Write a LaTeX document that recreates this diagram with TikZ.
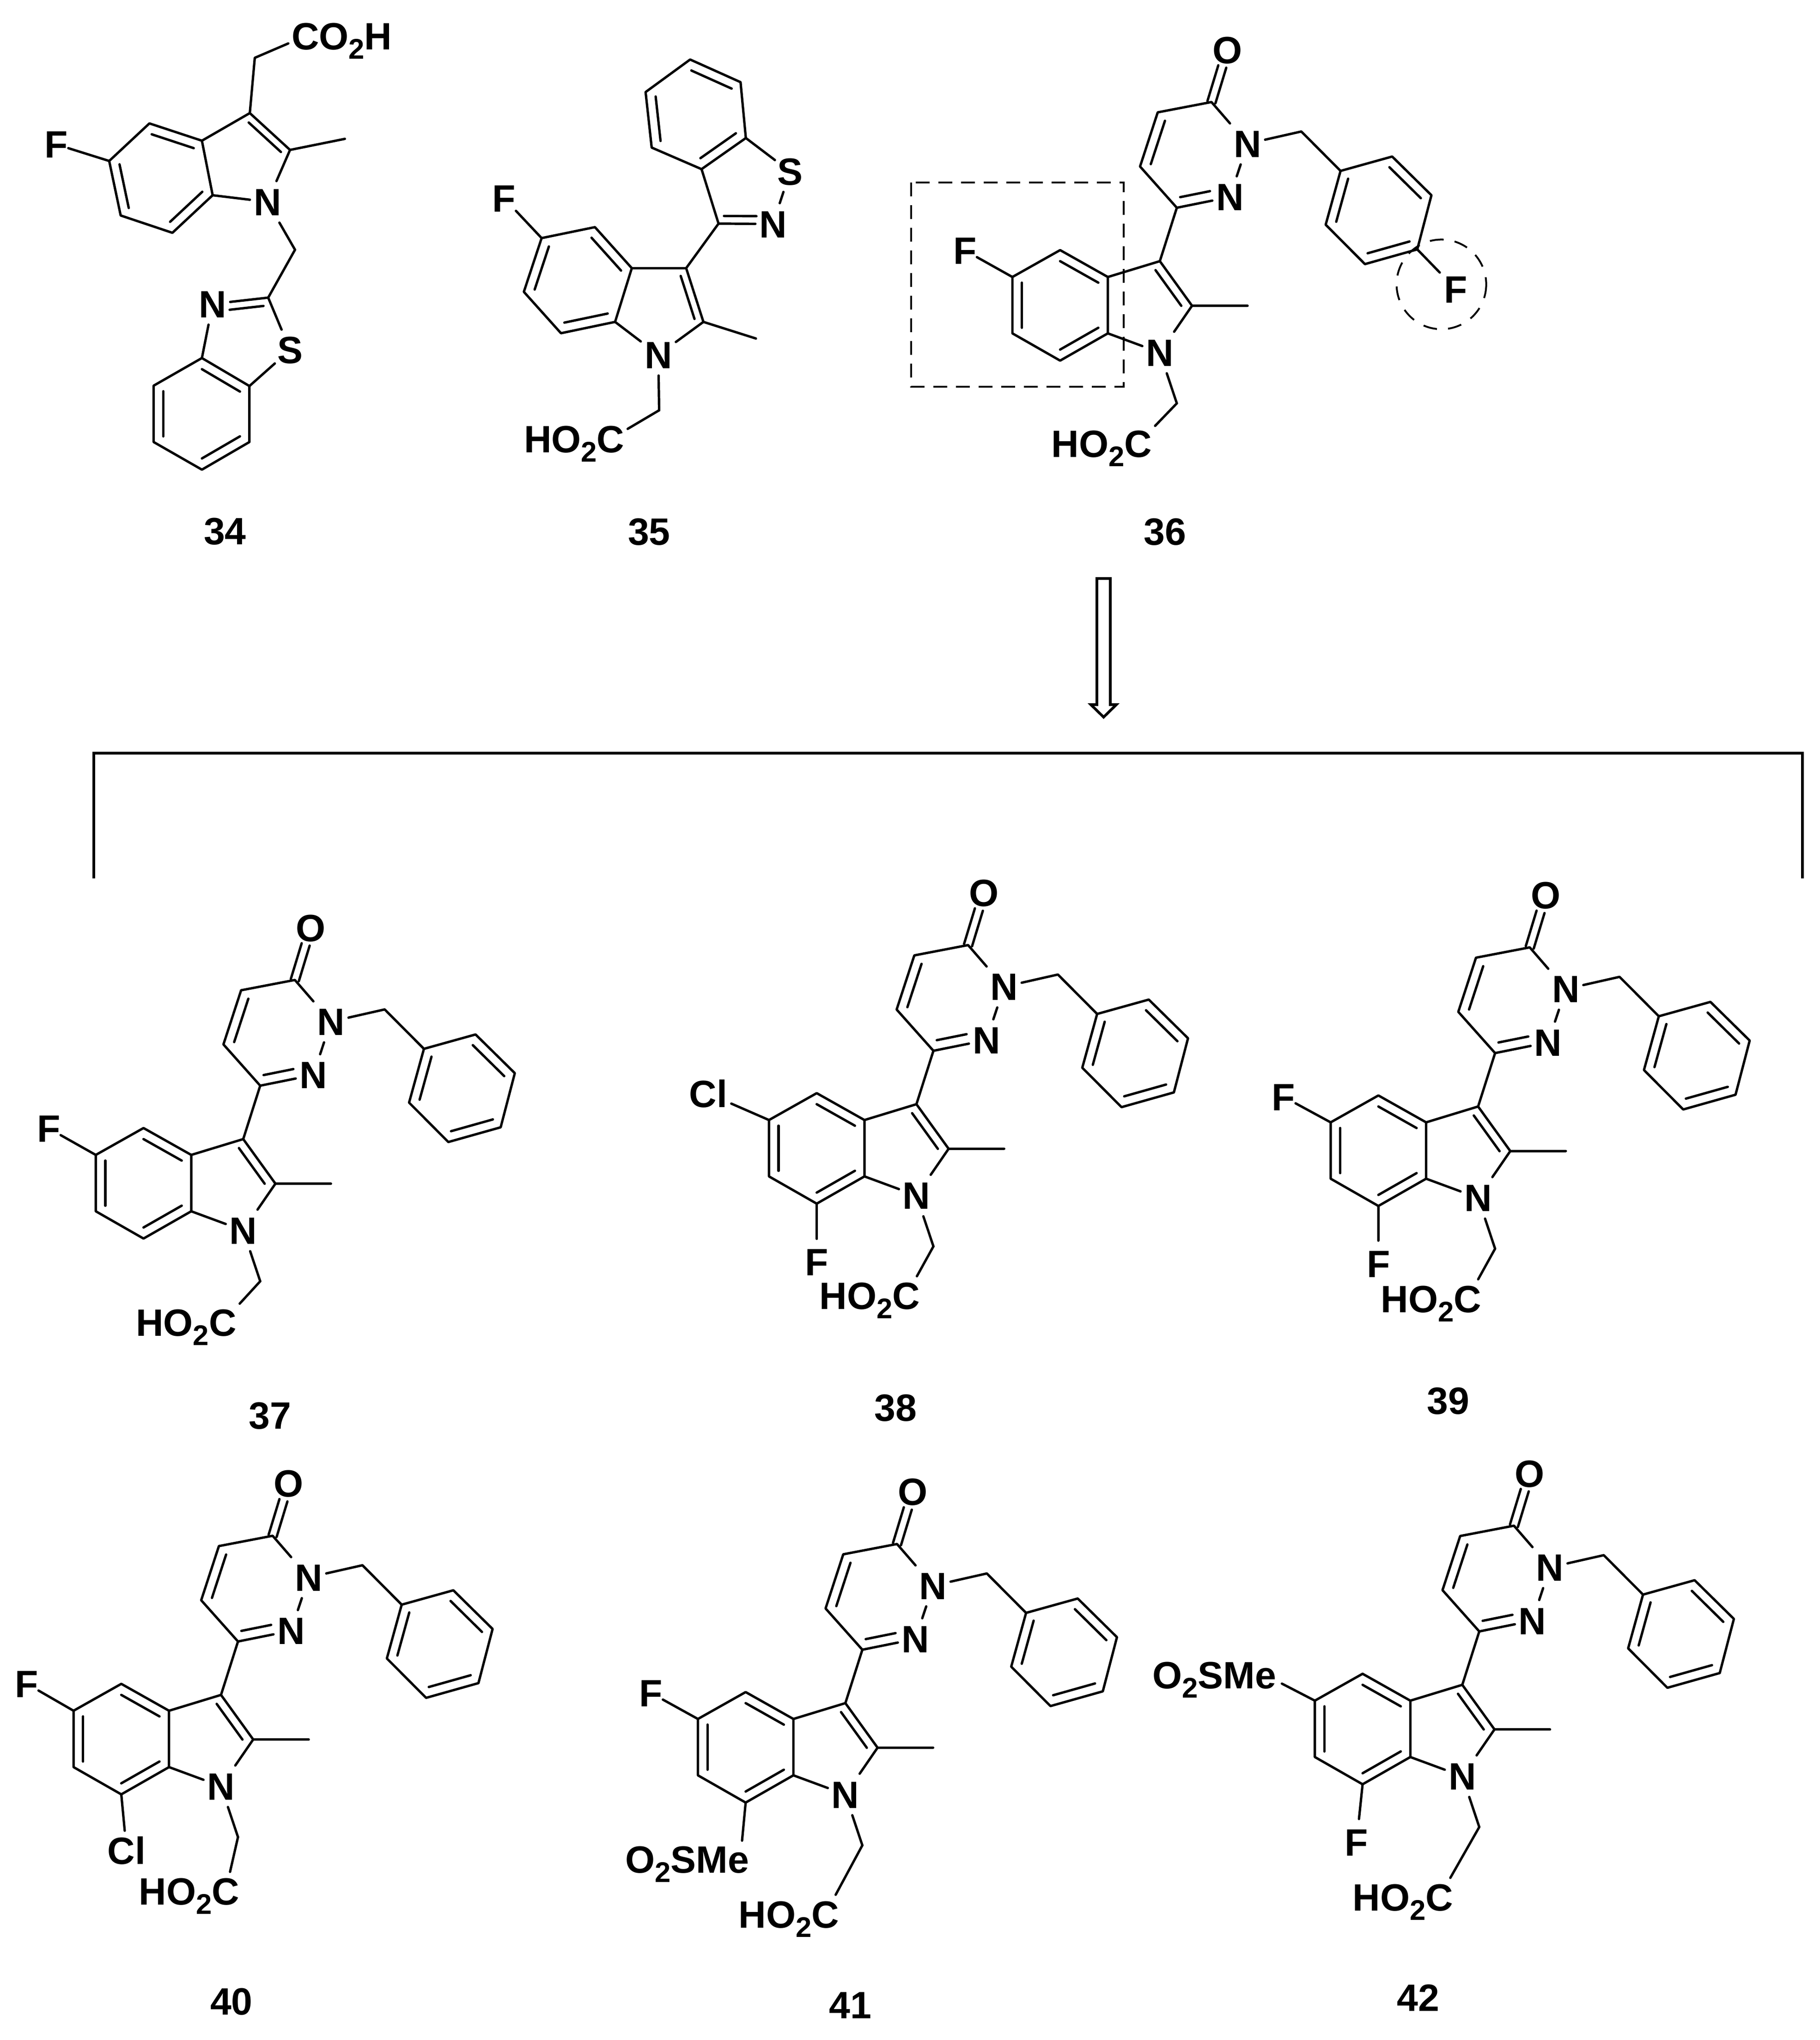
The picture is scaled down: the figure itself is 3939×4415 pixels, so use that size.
\documentclass[tikz,border=0pt]{standalone}
\usepackage{fontspec}
\setmainfont{Liberation Sans}
\usetikzlibrary{calc}
\newcommand\lf{\fontsize{20.6pt}{22pt}\selectfont\bfseries}
\newcommand\gl[1]{\makebox[0pt][c]{\raisebox{-7.35pt}[0pt][0pt]{#1}}}
\newcommand\subt[1]{\raisebox{-5pt}{\fontsize{15.4pt}{16pt}\selectfont #1}}
\tikzset{
  bond/.style={line width=1.3pt,line cap=round,line join=round,draw=black},
  atomb/.style 2 args={rectangle,inner sep=0pt,outer sep=0pt,minimum width=#1,minimum height=#2,font=\lf,text=black},
  atN/.style={atomb={19pt}{22.5pt}},
  atF/.style={atomb={13pt}{25pt}},
  atO/.style={atomb={17.5pt}{19pt}},
  atS/.style={atomb={16.5pt}{22pt}},
  atCl/.style={atomb={25pt}{21.5pt}},
  atC/.style={atomb={18.5pt}{21pt}},
  lbl/.style={inner sep=0pt,outer sep=0pt,font=\lf,text=black},
  dashbox/.style={line width=1.1pt,draw=black,dash pattern=on 7.5pt off 4.75pt},
  dashring/.style={line width=1pt,draw=black,dash pattern=on 7.5pt off 6pt},
  frame/.style={line width=1.5pt,draw=black,line join=miter},
  hollow/.style={line width=1.45pt,draw=black,line join=miter}
}
% inner line of a ring double bond
\newcommand\ringd[3]{\draw[bond] ($(#1)!.2!(#3)$) -- ($(#2)!.2!(#3)$);}
\newcommand\ringds[4]{\draw[bond,shorten >=#4] ($(#1)!.2!(#3)$) -- ($(#2)!.2!(#3)$);}
% exocyclic C=O
\newcommand\dbo[2]{\draw[bond,shorten >=9.5pt] ($(#1)!2.25pt!90:(#2)$) -- ($(#2)!2.25pt!-90:(#1)$);
  \draw[bond,shorten >=9.5pt] ($(#1)!2.25pt!-90:(#2)$) -- ($(#2)!2.25pt!90:(#1)$);}
% HO2C group: #1 name, #2 x, #3 y, #4 atom it is bound to
\newcommand\hoc[4]{\node[atC] (#1) at (#2,#3) {\gl{C}};
  \node[lbl,anchor=base east] (#1ho) at ([xshift=-7.4pt,yshift=-7.35pt]#1.center) {HO\subt{2}};
  \draw[bond] (#4) -- (#1);}
% common scaffold of 36-42: #1 prefix, #2 x offset, #3 y offset
\newcommand\scaff[3]{%
\begin{scope}[shift={(#2,#3)},x=.19133pt,y=-.1993pt]
  \node[atO] (#1O) at (888,103) {\gl{O}};
  \node[atN] (#1Na) at (945,358) {\gl{N}};
  \node[atN] (#1Nb) at (895,503) {\gl{N}};
  \node[atN] (#1N) at (697,925) {\gl{N}};
  \coordinate (#1pa) at (843,245);
  \coordinate (#1pb) at (691,273);
  \coordinate (#1pc) at (641,420);
  \coordinate (#1pd) at (745,532);
  \coordinate (#1pz) at (793,388);
  \coordinate (#1ch) at (1097,325);
  \coordinate (#1i) at (1208,432);
  \coordinate (#1oa) at (1354,393);
  \coordinate (#1ma) at (1465,498);
  \coordinate (#1p) at (1425,645);
  \coordinate (#1mb) at (1277,685);
  \coordinate (#1ob) at (1166,578);
  \coordinate (#1phz) at (1315,538);
  \coordinate (#1c3) at (697,677);
  \coordinate (#1c2) at (788,798);
  \coordinate (#1me) at (945,798);
  \coordinate (#1c3a) at (550,720);
  \coordinate (#1c7a) at (550,873);
  \coordinate (#1c4) at (415,647);
  \coordinate (#1c5) at (280,720);
  \coordinate (#1c6) at (280,873);
  \coordinate (#1c7) at (415,947);
  \coordinate (#1hz) at (415,797);
  \coordinate (#1yz) at (636,799);
  \coordinate (#1nch) at (745,1063);
\end{scope}
\draw[bond] (#1Nb) -- (#1pd) -- (#1pc) -- (#1pb) -- (#1pa) -- (#1Na);
\draw[bond] (#1Na) -- (#1Nb);
\draw[bond] (#1Na) -- (#1ch) -- (#1i);
\draw[bond] (#1i) -- (#1oa) -- (#1ma) -- (#1p) -- (#1mb) -- (#1ob) -- cycle;
\ringd{#1pc}{#1pb}{#1pz}
\ringds{#1pd}{#1Nb}{#1pz}{7pt}
\dbo{#1pa}{#1O}
\ringd{#1i}{#1ob}{#1phz}
\ringd{#1oa}{#1ma}{#1phz}
\ringd{#1p}{#1mb}{#1phz}
\draw[bond] (#1pd) -- (#1c3) -- (#1c2) -- (#1me);
\draw[bond] (#1c3) -- (#1c3a);
\draw[bond] (#1c3a) -- (#1c4) -- (#1c5) -- (#1c6) -- (#1c7) -- (#1c7a) -- cycle;
\draw[bond] (#1c2) -- (#1N);
\draw[bond] (#1c7a) -- (#1N);
\draw[bond] (#1N) -- (#1nch);
\ringd{#1c5}{#1c6}{#1hz}
\ringd{#1c4}{#1c3a}{#1hz}
\ringd{#1c7}{#1c7a}{#1hz}
\ringd{#1c3}{#1c2}{#1yz}
}
\begin{document}
\begin{tikzpicture}[x=.25pt,y=-.25pt]
\useasboundingbox (0,0) rectangle (3939,4415);
% ---------- 34
\begin{scope}[x=.2073pt,y=-.1993pt]
  \node[atC] (aco) at (797,98) {\gl{C}};
  \node[lbl,anchor=base west] (acoh) at ([xshift=7.4pt,yshift=-7.35pt]aco.center) {O\subt{2}H};
  \node[atF] (af) at (147,392) {\gl{F}};
  \node[atN] (an) at (698,548) {\gl{N}};
  \node[atN] (ann) at (555,825) {\gl{N}};
  \node[atS] (as) at (757,950) {\gl{S}};
  \coordinate (ach) at (665,157);
  \coordinate (ac3) at (652,307);
  \coordinate (ac2) at (757,407);
  \coordinate (ame) at (900,377);
  \coordinate (ac3a) at (527,382);
  \coordinate (ac7a) at (555,530);
  \coordinate (ac4) at (390,335);
  \coordinate (ac5) at (285,437);
  \coordinate (ac6) at (315,585);
  \coordinate (ac7) at (450,632);
  \coordinate (ahz) at (420,483);
  \coordinate (ayz) at (638,435);
  \coordinate (anch) at (770,678);
  \coordinate (at2) at (700,808);
  \coordinate (at7a) at (527,972);
  \coordinate (at3a) at (651,1048);
  \coordinate (ab1) at (651,1200);
  \coordinate (ab2) at (527,1275);
  \coordinate (ab3) at (401,1200);
  \coordinate (ab4) at (401,1047);
  \coordinate (abz) at (527,1123);
  \coordinate (atz) at (638,921);
\end{scope}
\draw[bond] (aco) -- (ach) -- (ac3) -- (ac2) -- (ame);
\draw[bond] (af) -- (ac5);
\draw[bond] (ac3) -- (ac3a);
\draw[bond] (ac3a) -- (ac4) -- (ac5) -- (ac6) -- (ac7) -- (ac7a) -- cycle;
\draw[bond] (ac2) -- (an);
\draw[bond] (ac7a) -- (an);
\draw[bond] (an) -- (anch) -- (at2) -- (as);
\draw[bond] (at2) -- (ann);
\draw[bond] (ann) -- (at7a);
\draw[bond] (as) -- (at3a);
\draw[bond] (at7a) -- (at3a) -- (ab1) -- (ab2) -- (ab3) -- (ab4) -- cycle;
\ringd{ac4}{ac3a}{ahz}
\ringd{ac5}{ac6}{ahz}
\ringd{ac7}{ac7a}{ahz}
\ringd{ac3}{ac2}{ayz}
\ringds{at2}{ann}{atz}{5.8pt}
\ringd{at7a}{at3a}{abz}
\ringd{ab1}{ab2}{abz}
\ringd{ab3}{ab4}{abz}
\node[lbl] (l34) at (487,1150) {34};
% ---------- 35
\begin{scope}[shift={(1000,50)},x=.14351pt,y=-.19132pt]
  \node[atF] (bf) at (158,495) {\gl{F}};
  \node[atN] (bn) at (740,938) {\gl{N}};
  \node[atN] (bnn) at (1172,568) {\gl{N}};
  \node[atS] (bs) at (1237,420) {\gl{S}};
  \coordinate (bc5) at (300,608);
  \coordinate (bc4) at (501,577);
  \coordinate (bc3a) at (640,693);
  \coordinate (bc7a) at (577,845);
  \coordinate (bc7) at (373,877);
  \coordinate (bc6) at (233,760);
  \coordinate (bc3) at (845,693);
  \coordinate (bc2) at (910,845);
  \coordinate (bme) at (1108,892);
  \coordinate (bnch) at (743,1095);
  \coordinate (bi3) at (967,567);
  \coordinate (bi7a) at (1070,325);
  \coordinate (bi3a) at (903,413);
  \coordinate (bb1) at (1050,167);
  \coordinate (bb2) at (860,103);
  \coordinate (bb3) at (692,195);
  \coordinate (bb4) at (715,352);
  \coordinate (bbz) at (882,258);
  \coordinate (bhz) at (437,727);
  \coordinate (byz) at (742,803);
  \coordinate (biz) at (1070,459);
\end{scope}
\draw[bond] (bf) -- (bc5);
\draw[bond] (bc3) -- (bc3a);
\draw[bond] (bc3a) -- (bc4) -- (bc5) -- (bc6) -- (bc7) -- (bc7a) -- cycle;
\draw[bond] (bc3) -- (bc2) -- (bme);
\draw[bond] (bc2) -- (bn);
\draw[bond] (bc7a) -- (bn);
\draw[bond] (bn) -- (bnch);
\hoc{bco}{1321.5}{950}{bnch}
\draw[bond] (bc3) -- (bi3) -- (bi3a);
\draw[bond] (bi3) -- (bnn);
\draw[bond] (bnn) -- (bs);
\draw[bond] (bs) -- (bi7a);
\draw[bond] (bi3a) -- (bi7a) -- (bb1) -- (bb2) -- (bb3) -- (bb4) -- cycle;
\ringd{bc5}{bc6}{bhz}
\ringd{bc4}{bc3a}{bhz}
\ringd{bc7a}{bc7}{bhz}
\ringd{bc3}{bc2}{byz}
\ringds{bi3}{bnn}{biz}{6pt}
\ringd{bi3a}{bi7a}{bbz}
\ringd{bb1}{bb2}{bbz}
\ringd{bb3}{bb4}{bbz}
\node[lbl] (l35) at (1405,1151) {35};
% ---------- 36
\scaff{c}{1976.8}{25.5}
\node[atF] (cf) at (2088.4,542) {\gl{F}};
\draw[bond] (cf) -- (cc5);
\node[atO] (cfb) at (3151,625.8) {\gl{F}};
\draw[bond] (cfb) -- (cp);
\hoc{cco}{2463}{960}{cnch}
\node[lbl] (l36) at (2521,1151) {36};
\coordinate (boxa) at (1972,395);
\coordinate (boxb) at (2432,837);
\draw[dashbox] (boxa) rectangle (boxb);
\coordinate (ringc) at (3119.6,615.4);
\draw[dashring] (ringc) circle[radius=97];
% ---------- arrow and bracket
\draw[hollow] (2374,1252) -- (2403,1252) -- (2403,1525) -- (2416,1525) -- (2388.5,1552) -- (2361,1525) -- (2374,1525) -- cycle;
\draw[frame] (203,1901) -- (203,1630) -- (3901,1630) -- (3901,1901);
% ---------- 37
\scaff{d}{-7}{1925.5}
\node[atF] (df) at (105.3,2442) {\gl{F}};
\draw[bond] (df) -- (dc5);
\hoc{dco}{481.8}{2861.7}{dnch}
\node[lbl] (l37) at (584.6,3064) {37};
% ---------- 38
\scaff{e}{1450}{1850}
\node[atCl] (ecl) at (1532.7,2366.6) {\gl{Cl}};
\draw[bond] (ecl) -- (ec5);
\node[atF] (ef) at (1767.6,2731) {\gl{F}};
\draw[bond] (ef) -- (ec7);
\hoc{eco}{1961.2}{2804}{ench}
\node[lbl] (l38) at (1938,3047) {38};
% ---------- 39
\scaff{f}{2665.6}{1855}
\node[atF] (ff) at (2778,2373.7) {\gl{F}};
\draw[bond] (ff) -- (fc5);
\node[atF] (ffb) at (2983.2,2734.9) {\gl{F}};
\draw[bond] (ffb) -- (fc7);
\hoc{fco}{3176}{2810.6}{fnch}
\node[lbl] (l39) at (3134,3032) {39};
% ---------- 40
\scaff{g}{-55.1}{3128.4}
\node[atF] (gf) at (57.4,3643.7) {\gl{F}};
\draw[bond] (gf) -- (gc5);
\node[atCl] (gcl) at (274,4005) {\gl{Cl}};
\draw[bond] (gcl) -- (gc7);
\hoc{gco}{488.3}{4093}{gnch}
\node[lbl] (l40) at (501,4332) {40};
% ---------- 41
\scaff{h}{1296.2}{3146.2}
\node[atF] (hf) at (1408.7,3663.9) {\gl{F}};
\draw[bond] (hf) -- (hc5);
\node[lbl,anchor=base east] (hs) at (1621.4,4053.6) {O\subt{2}SMe};
\coordinate (hse) at (1606,3983.4);
\draw[bond] (hc7) -- (hse);
\hoc{hco}{1786}{4142.6}{hnch}
\node[lbl] (l41) at (1840,4340) {41};
% ---------- 42
\scaff{k}{2631.4}{3106.6}
\node[lbl,anchor=base east] (ks) at (2762,3654) {O\subt{2}SMe};
\coordinate (kse) at (2774.4,3643.7);
\draw[bond] (kse) -- (kc5);
\node[atF] (kf) at (2936,3986.6) {\gl{F}};
\draw[bond] (kf) -- (kc7);
\hoc{kco}{3115}{4106}{knch}
\node[lbl] (l42) at (3069,4324) {42};
\end{tikzpicture}
\end{document}
